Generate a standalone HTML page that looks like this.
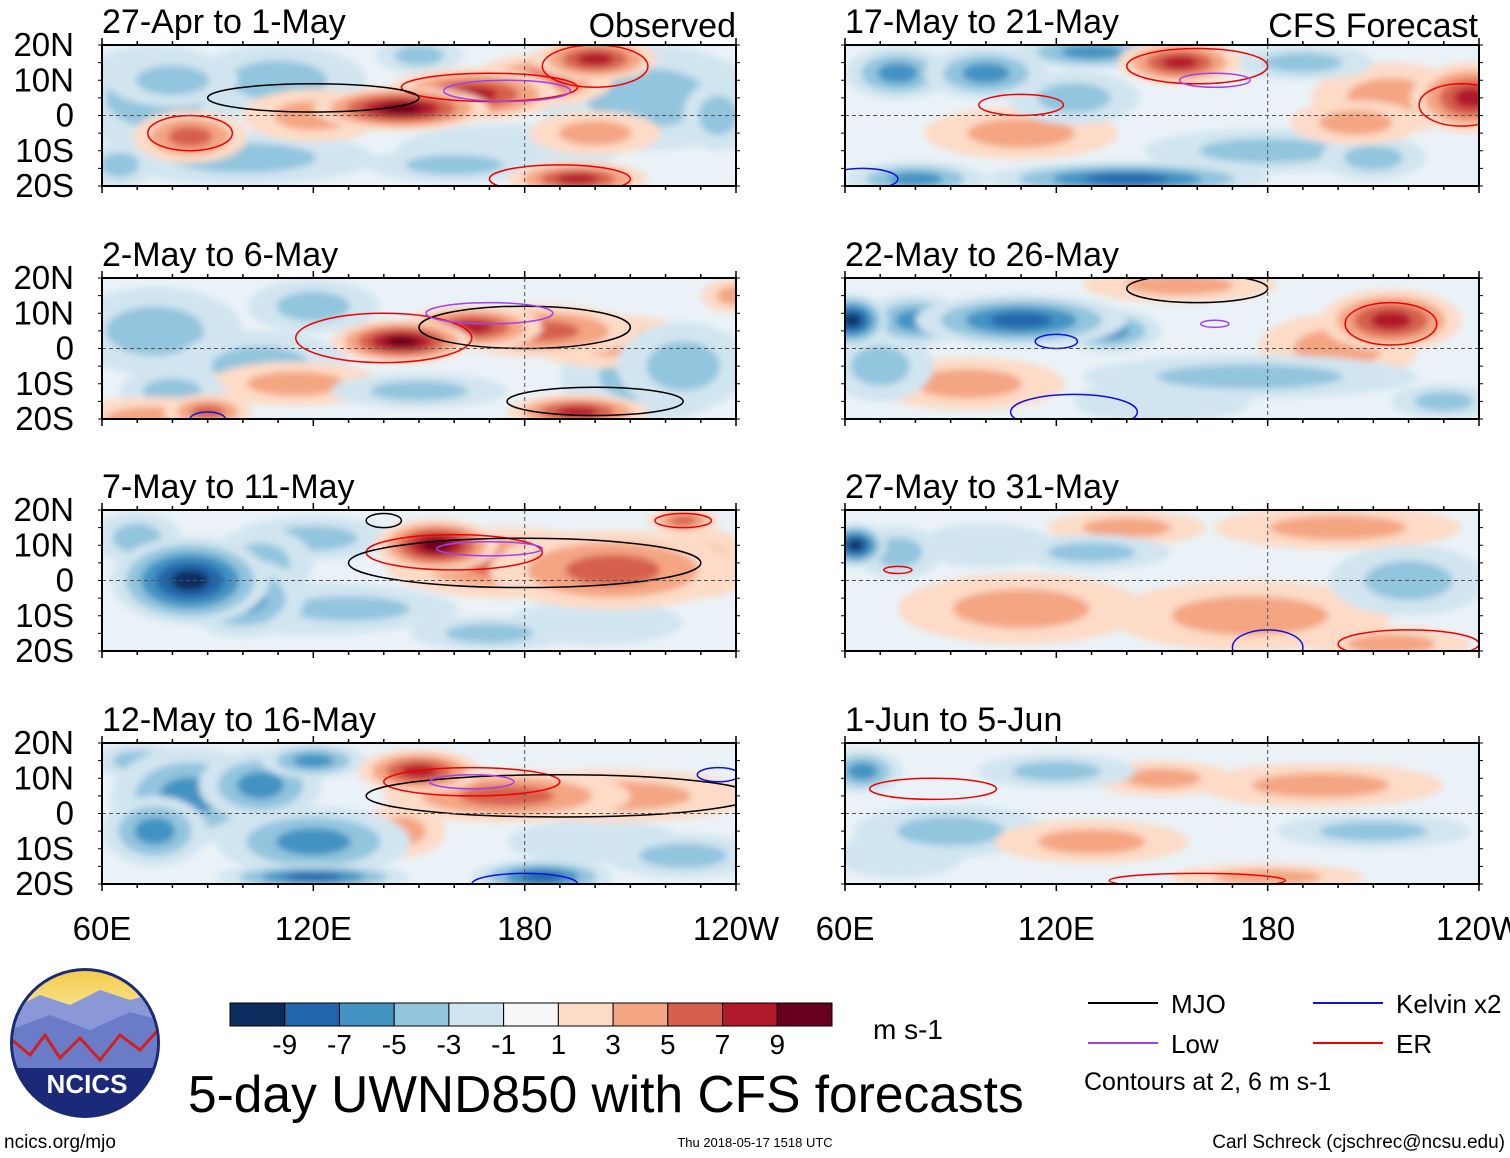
<!DOCTYPE html>
<html><head><meta charset="utf-8"><style>
body{margin:0;background:#fff;font-family:"Liberation Sans",sans-serif}
svg{display:block}
text{font-family:"Liberation Sans",sans-serif}
</style></head><body>
<svg id="s" width="1510" height="1158" viewBox="0 0 1510 1158" xmlns="http://www.w3.org/2000/svg">
<defs>
<filter id="bl" x="-50%" y="-50%" width="200%" height="200%"><feGaussianBlur stdDeviation="3.5"/></filter>
<linearGradient id="sun" x1="0" y1="0" x2="0" y2="1"><stop offset="0" stop-color="#f7c948"/><stop offset="1" stop-color="#f4e28a"/></linearGradient>
</defs>
</svg>
<script>
const NS='http://www.w3.org/2000/svg';
const svg=document.getElementById('s');
const titles=['27-Apr to 1-May','2-May to 6-May','7-May to 11-May','12-May to 16-May','17-May to 21-May','22-May to 26-May','27-May to 31-May','1-Jun to 5-Jun'];
const latTicks=['20N','10N','0','10S','20S'];
const lonTicks=['60E','120E','180','120W'];
const levels=[-9,-7,-5,-3,-1,1,3,5,7,9];
const colors=['#0b2e5e','#2166ac','#4393c3','#92c5de','#d1e5f0','#f7f7f7','#fddbc7','#f4a582','#d6604d','#b2182b','#67001f'];
// anomaly blobs per panel: [lon, lat, lonRadius, latRadius, value]
const blobs0=[[75,5,20,12,-3],[110,10,20,8,-3],[215,5,25,12,-3],[175,-10,25,6,-2],[100,-12,30,6,-3],[145,2,20,5,9],[165,6,20,6,7],[185,10,16,6,5],[200,16,14,5,7],[85,-6,13,6,5],[195,-18,16,4,7],[120,0,16,6,3],[150,17,10,4,-3],[235,0,8,8,-3],[80,10,15,6,-3],[65,-14,8,5,-3],[160,-14,20,4,-3],[200,-5,15,5,3]];
const blobs1=[[75,5,20,10,-3],[105,-5,20,8,-3],[215,-8,20,10,-3],[120,12,15,6,-3],[145,2,16,5,9],[165,6,16,5,7],[185,5,22,6,5],[205,2,20,6,3],[195,-18,16,4,7],[90,-18,10,4,5],[115,-10,20,5,3],[80,-12,12,5,-3],[225,-5,15,10,-3],[150,-12,20,4,-3],[240,15,8,4,3],[75,-20,20,5,3]];
const blobs2=[[85,0,18,10,-9],[100,-5,14,9,-5],[120,-8,30,6,-3],[155,10,14,6,9],[175,5,28,8,5],[205,3,28,9,5],[230,5,12,8,3],[120,12,18,5,-3],[130,-8,25,5,-3],[225,17,8,3,5],[170,-15,18,4,-3],[105,5,12,8,-3],[200,-12,20,5,-2],[70,12,10,6,-3]];
const blobs3=[[150,12,14,5,7],[175,5,28,6,5],[205,5,32,6,3],[85,5,18,11,-5],[105,8,14,8,-5],[75,-5,12,8,-5],[120,-8,22,8,-5],[185,-18,16,4,-7],[120,-18,22,3,-7],[225,-12,18,5,-3],[145,-5,10,6,3],[120,15,12,4,-5],[200,-8,20,5,-2],[70,15,10,4,-3]];
const blobs4=[[155,15,14,5,7],[238,5,14,8,7],[215,5,18,8,3],[75,12,12,6,-5],[100,12,14,6,-5],[130,18,18,4,-5],[140,-18,32,4,-7],[80,-18,16,4,-5],[180,-10,28,5,-3],[110,-5,22,6,3],[210,-12,12,5,-3],[190,15,16,4,-3],[125,5,15,6,-3],[205,-2,15,5,3]];
const blobs5=[[62,8,8,6,-9],[80,8,12,6,-5],[110,8,24,6,-7],[135,5,12,5,-5],[215,8,16,7,7],[200,0,18,8,3],[155,18,22,4,3],[175,-8,38,5,-3],[230,-15,12,4,-3],[95,-10,22,6,3],[70,-5,12,8,-3],[150,-15,20,5,-2]];
const blobs6=[[63,10,7,5,-9],[75,8,10,6,-3],[140,15,18,4,3],[200,15,28,5,3],[110,-8,28,8,3],[175,-10,32,8,3],[220,0,18,8,-3],[130,8,18,4,-3],[215,-18,18,4,3],[100,10,15,5,-2]];
const blobs7=[[65,12,9,5,-5],[90,-5,22,6,-3],[150,10,16,4,3],[195,8,28,5,3],[130,-8,22,5,3],[180,-18,22,3,3],[210,-5,22,4,-3],[120,12,18,4,-3],[75,-12,15,5,-2]];
const allBlobs=[blobs0,blobs1,blobs2,blobs3,blobs4,blobs5,blobs6,blobs7];
// contours per panel: [lon, lat, lonRadius, latRadius, type]
const cont0=[[170,8,25,4,'er'],[190,-18,20,4,'er'],[85,-5,12,5,'er'],[120,5,30,4,'mjo'],[175,7,18,3,'low'],[200,14,15,6,'er']];
const cont1=[[140,3,25,7,'er'],[180,6,30,6,'mjo'],[170,10,18,3,'low'],[200,-15,25,4,'mjo'],[90,-20,5,2,'kelvin']];
const cont2=[[160,8,25,5,'er'],[180,5,50,7,'mjo'],[170,9,15,2,'low'],[225,17,8,2,'er'],[140,17,5,2,'mjo']];
const cont3=[[165,9,25,4,'er'],[190,5,55,6,'mjo'],[165,9,12,2,'low'],[235,11,6,2,'kelvin'],[180,-20,15,3,'kelvin']];
const cont4=[[160,14,20,5,'er'],[110,3,12,3,'er'],[235,3,12,6,'er'],[165,10,10,2,'low'],[65,-18,10,3,'kelvin']];
const cont5=[[215,7,13,6,'er'],[160,17,20,4,'mjo'],[120,2,6,2,'kelvin'],[125,-18,18,5,'kelvin'],[165,7,4,1,'low']];
const cont6=[[180,-19,10,5,'kelvin'],[220,-18,20,4,'er'],[75,3,4,1,'er']];
const cont7=[[85,7,18,3,'er'],[160,-19,25,2,'er']];
const allCont=[cont0,cont1,cont2,cont3,cont4,cont5,cont6,cont7];
const cStroke={mjo:'#000',low:'#a040f0',kelvin:'#1010e0',er:'#f00000'};

function el(t,a,p){const e=document.createElementNS(NS,t);for(const k in a)e.setAttribute(k,a[k]);(p||svg).appendChild(e);return e;}
function colorFor(v){let i=0;while(i<levels.length&&v>levels[i])i++;return colors[i];}
const colX=[102,845], rowY=[45,278,510,743], W=634, H=141;

for(let p=0;p<8;p++){
  const col=p<4?0:1,row=p%4,x0=colX[col],y0=rowY[row];
  const xs=lon=>x0+(lon-60)/180*W, ys=lat=>y0+(20-lat)/40*H;
  const g=el('g',{});
  
  
  const cp=el('clipPath',{id:'c'+p});
  el('rect',{x:x0,y:y0,width:W,height:H},cp);
  const field=el('g',{'clip-path':'url(#c'+p+')'},g);
  el('rect',{x:x0,y:y0,width:W,height:H,fill:'#eaf2f7'},field);
  const fg=el('g',{filter:'url(#bl)'},field);
  const sorted=allBlobs[p].slice().sort((a,b)=>Math.abs(a[4])-Math.abs(b[4]));
  sorted.forEach(b=>{
    const v=b[4],s=Math.sign(v),n=Math.abs(v);
    for(let l=1;l<=n;l+=2){
      const f=1.25*(1-(l-1)/(n+1.5));
      const e=el('ellipse',{cx:xs(b[0]),cy:ys(b[1]),rx:b[2]/180*W*f,ry:b[3]/40*H*f,fill:colorFor(s*(l+0.5))},fg);
      
      
    }
  });
  allCont[p].forEach(c=>{
    const e=el('ellipse',{cx:xs(c[0]),cy:ys(c[1]),rx:c[2]/180*W,ry:c[3]/40*H,fill:'none',stroke:cStroke[c[4]],'stroke-width':1.5},field);
    
    
  });
  el('line',{x1:x0,x2:x0+W,y1:ys(0),y2:ys(0),stroke:'#555','stroke-dasharray':'4,3','stroke-width':1},g);
  el('line',{x1:xs(180),x2:xs(180),y1:y0,y2:y0+H,stroke:'#555','stroke-dasharray':'4,3','stroke-width':1},g);
  el('rect',{x:x0,y:y0,width:W,height:H,fill:'none',stroke:'#000','stroke-width':2},g);
  for(let lon=60;lon<=240;lon+=10){const big=lon%60==0;
    el('line',{x1:xs(lon),x2:xs(lon),y1:y0+H,y2:y0+H+(big?7:4),stroke:'#000','stroke-width':1.5},g);
    el('line',{x1:xs(lon),x2:xs(lon),y1:y0,y2:y0-(big?7:4),stroke:'#000','stroke-width':1.5},g);}
  for(let lat=-20;lat<=20;lat+=5){
    el('line',{x1:x0,x2:x0-4,y1:ys(lat),y2:ys(lat),stroke:'#000'},g);
    el('line',{x1:x0+W,x2:x0+W+4,y1:ys(lat),y2:ys(lat),stroke:'#000'},g);}
  const t=el('text',{x:x0,y:y0-12,'font-size':34},g);t.textContent=titles[p];
  
  if(col==0){latTicks.forEach((s,i)=>{const tt=el('text',{x:74,y:y0+i*H/4+11,'font-size':33,'text-anchor':'end'},g);tt.textContent=s;
    });}
}
function txt(s,a,name){const t=el('text',a);t.textContent=s;return t;}
txt('Observed',{x:736,y:37,'font-size':34,'text-anchor':'end'},'observed-label');
txt('CFS Forecast',{x:1478,y:37,'font-size':34,'text-anchor':'end'},'forecast-label');
[0,1].forEach(c=>lonTicks.forEach((s,i)=>txt(s,{x:colX[c]+i*W/3,y:940,'font-size':33,'text-anchor':'middle'},'lon-tick-label')));
const cbx=230,cbw=602/11;
colors.forEach((c,i)=>{const r=el('rect',{x:cbx+i*cbw,y:1003,width:cbw,height:23,fill:c,stroke:'#000','stroke-width':1});
  });
levels.forEach((v,i)=>{txt(String(v),{x:cbx+(i+1)*cbw,y:1054,'font-size':28,'text-anchor':'middle'},'colorbar-label');});
txt('m s-1',{x:873,y:1039,'font-size':28},'units-label');
txt('5-day UWND850 with CFS forecasts',{x:188,y:1112,'font-size':51.5},'chart-title');
[['MJO','#000',1088,1003],['Low','#a040f0',1088,1043],['Kelvin x2','#1010e0',1313,1003],['ER','#f00000',1313,1043]].forEach(l=>{
  const ln=el('line',{x1:l[2],x2:l[2]+70,y1:l[3],y2:l[3],stroke:l[1],'stroke-width':2});
  
  txt(l[0],{x:l[2]+83,y:l[3]+10,'font-size':26},'legend-entry');});
txt('Contours at 2, 6 m s-1',{x:1084,y:1090,'font-size':25},'contour-note');
txt('ncics.org/mjo',{x:4,y:1148,'font-size':19},'site-link');
txt('Thu 2018-05-17 1518 UTC',{x:755,y:1147,'font-size':13,'text-anchor':'middle'},'timestamp');
txt('Carl Schreck (cjschrec@ncsu.edu)',{x:1505,y:1148,'font-size':19,'text-anchor':'end'},'credit');
const lg=el('g',{});
el('circle',{cx:85,cy:1043,r:75,fill:'#1a2a78'},lg);
const lcp=el('clipPath',{id:'lc'});el('circle',{cx:85,cy:1043,r:72},lcp);
const lcg=el('g',{'clip-path':'url(#lc)'},lg);
el('rect',{x:10,y:968,width:150,height:40,fill:'url(#sun)'},lcg);
el('path',{d:'M10 1010 L40 995 L70 1005 L100 990 L130 1000 L160 992 L160 1060 L10 1060Z',fill:'#8a98d8'},lcg);
el('path',{d:'M10 1030 L50 1015 L90 1030 L130 1012 L160 1020 L160 1070 L10 1070Z',fill:'#6a7cc8'},lcg);
el('path',{d:'M12 1040 L30 1055 L45 1035 L60 1058 L80 1038 L100 1060 L120 1035 L140 1050 L158 1030',fill:'none',stroke:'#d02020','stroke-width':3},lcg);
el('rect',{x:10,y:1068,width:150,height:60,fill:'#1a2a78'},lcg);
const lt=el('text',{x:87,y:1093,'font-size':26,'font-weight':'bold',fill:'#fff','text-anchor':'middle'},lg);lt.textContent='NCICS';
</script>
</body></html>
